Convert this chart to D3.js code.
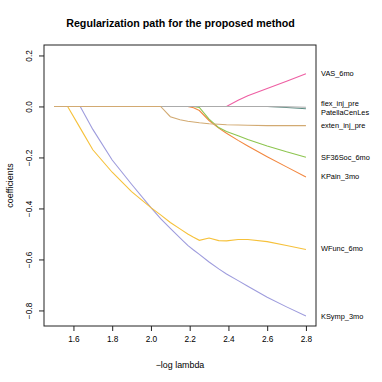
<!DOCTYPE html>
<html><head><meta charset="utf-8">
<script src="https://cdn.jsdelivr.net/npm/d3@7"></script>
<style>body{margin:0;background:#fff}svg{display:block}text{font-family:"Liberation Sans",Arial,sans-serif;fill:#000}</style>
</head><body><svg id="c" width="382" height="382"></svg>
<script>
const xs = [1.5,1.57,1.635,1.7,1.8,1.9,2.0,2.05,2.1,2.15,2.19,2.22,2.25,2.3,2.35,2.39,2.45,2.5,2.6,2.7,2.8];
const names = ["VAS_6mo","KPain_3mo","SF36Soc_6mo","KSymp_3mo","WFunc_6mo","flex_inj_pre","PatellaCenLes","exten_inj_pre"];
const VAS_6mo       = [0,0,0,0,0,0,0,0,0,0,0,0,0,0,0,0,0.024,0.042,0.07,0.099,0.128];
const KPain_3mo     = [0,0,0,0,0,0,0,0,0,0,0,-0.005,-0.016,-0.055,-0.085,-0.105,-0.133,-0.155,-0.197,-0.237,-0.277];
const SF36Soc_6mo   = [0,0,0,0,0,0,0,0,0,0,0,0,-0.004,-0.05,-0.083,-0.098,-0.115,-0.13,-0.155,-0.178,-0.199];
const KSymp_3mo     = [0,0,0,-0.09,-0.21,-0.305,-0.397,-0.44,-0.478,-0.515,-0.545,-0.563,-0.58,-0.61,-0.637,-0.657,-0.683,-0.705,-0.748,-0.786,-0.822];
const WFunc_6mo     = [0,0,-0.085,-0.17,-0.258,-0.334,-0.397,-0.425,-0.455,-0.48,-0.50,-0.513,-0.525,-0.516,-0.526,-0.527,-0.522,-0.522,-0.53,-0.545,-0.561];
const flex_inj_pre  = [0,0,0,0,0,0,0,0,0,0,0,0,0,0,0,0,0,0,0,-0.004,-0.009];
const PatellaCenLes = [0,0,0,0,0,0,0,0,0,0,0,0,0,0,0,0,0,0,0,-0.001,-0.003];
const exten_inj_pre = [0,0,0,0,0,0,0,0,-0.04,-0.052,-0.058,-0.061,-0.064,-0.068,-0.07,-0.072,-0.073,-0.074,-0.075,-0.075,-0.075];
const colors = ["#EE5FA3","#F2873F","#8DC54F","#9E9CDD","#F6C13A","#5F8F86","#ABABAB","#D2AA72"];
// label positions (data units) as placed on the right margin
const labelY = [0.13,-0.275,-0.199,-0.822,-0.557,0.013,-0.0235,-0.0745];
const xTicks = [1.6,1.8,2.0,2.2,2.4,2.6,2.8];
const yTicks = [0.2,0.0,-0.2,-0.4,-0.6,-0.8];
const series = [VAS_6mo,KPain_3mo,SF36Soc_6mo,KSymp_3mo,WFunc_6mo,flex_inj_pre,PatellaCenLes,exten_inj_pre];

const svg = d3.select("#c");
const L=44, R=316, T=45, B=326;
const x = d3.scaleLinear().domain([1.448,2.852]).range([L,R]);
const y = d3.scaleLinear().domain([-0.861,0.241]).range([B,T]);
const fmt = v => (v<0?"\u2212":"") + Math.abs(v).toFixed(1);

svg.append("text").attr("x",180.5).attr("y",27).attr("text-anchor","middle")
  .style("font-weight","bold").style("font-size","10.7px").text("Regularization path for the proposed method");

const line = d3.line().x((d,i)=>x(xs[i])).y(d=>y(d));
series.forEach((s,k)=>{
  svg.append("path").datum(s).attr("d",line).attr("fill","none")
    .attr("stroke",colors[k]).attr("stroke-width",1.1);
});

svg.append("rect").attr("x",L).attr("y",T).attr("width",R-L).attr("height",B-T)
  .attr("fill","none").attr("stroke","#222").attr("stroke-width",1);

const xa = svg.append("g").attr("transform",`translate(0,${B})`)
  .call(d3.axisBottom(x).tickValues(xTicks).tickSize(5).tickPadding(5).tickFormat(d3.format(".1f")));
const ya = svg.append("g").attr("transform",`translate(${L},0)`)
  .call(d3.axisLeft(y).tickValues(yTicks).tickSize(5).tickFormat(fmt));
[xa,ya].forEach(a=>{a.select(".domain").remove();a.selectAll("line").attr("stroke","#222");
  a.selectAll("text").style("font-size","8.3px").style("font-family","'Liberation Sans',Arial,sans-serif").attr("fill","#000");});
xa.selectAll("text").attr("dy","0.71em");
ya.selectAll(".tick text").attr("transform","rotate(-90)").attr("x",0).attr("y",-12).attr("dy","0").attr("text-anchor","middle");

svg.append("text").attr("x",180).attr("y",368).attr("text-anchor","middle").style("font-size","8.9px").text("\u2212log lambda");
svg.append("text").attr("transform",`translate(13,${(T+B)/2}) rotate(-90)`).attr("text-anchor","middle").style("font-size","8.9px").text("coefficients");

names.forEach((n,k)=>{
  svg.append("text").attr("x",321).attr("y",y(labelY[k])).attr("dy","0.35em")
    .style("font-size","7.4px").text(n);
});
</script></body></html>
